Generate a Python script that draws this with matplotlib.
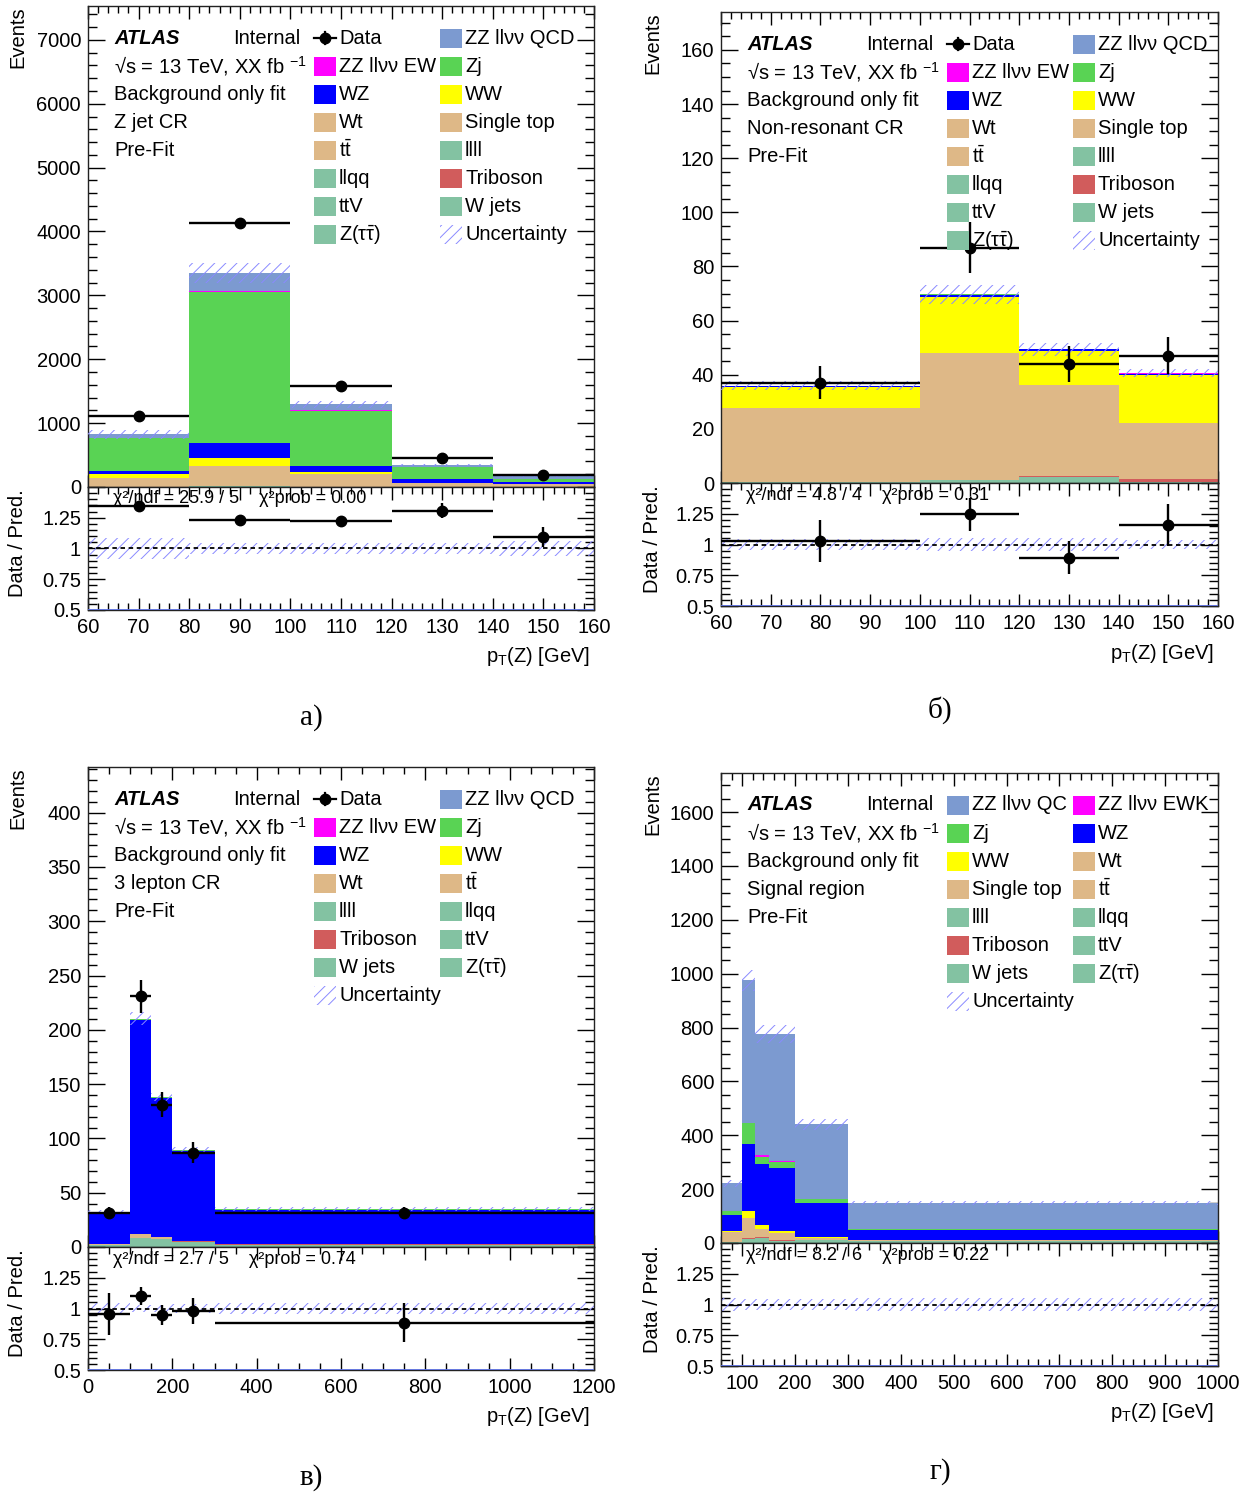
import numpy as np
import matplotlib
matplotlib.use('Agg')
import matplotlib.pyplot as plt
from matplotlib.patches import Rectangle
from matplotlib.ticker import MultipleLocator, FixedLocator, FixedFormatter

plt.rcParams['font.family'] = ['Liberation Sans', 'DejaVu Sans']
plt.rcParams['mathtext.fontset'] = 'custom'
plt.rcParams['mathtext.rm'] = 'Liberation Sans'
plt.rcParams['mathtext.it'] = 'Liberation Sans:italic'
plt.rcParams['mathtext.bf'] = 'Liberation Sans:bold'
plt.rcParams['mathtext.default'] = 'regular'
plt.rcParams['hatch.linewidth'] = 0.7

# ---- Z jet CR ----
a_edges = [60, 80, 100, 120, 140, 160]
a_other = [5, 8, 5, 3, 2]
a_tribo = [1, 2, 1, 1, 0]
a_top = [134, 320, 194, 56, 38]
a_ww = [60, 120, 40, 10, 5]
a_wz = [55, 233, 93, 50, 38]
a_zj = [505, 2370, 862, 196, 37]
a_ew = [5, 10, 12, 3, 2]
a_qcd = [60, 290, 87, 25, 50]
a_data = [1110, 4130, 1580, 450, 188]
a_unc = [70, 160, 55, 15, 10]

# ---- Non-resonant CR ----
b_edges = [60, 100, 120, 140, 160]
b_other = [0.4, 1.0, 2.2, 0.5]
b_tribo = [0.1, 0.2, 0.4, 0.8]
b_top = [27.1, 46.9, 33.6, 20.7]
b_ww = [8.0, 20.7, 12.7, 17.9]
b_wz = [0.3, 0.8, 0.5, 0.4]
b_zj = [0.0, 0.2, 0.0, 0.0]
b_ew = [0.0, 0.0, 0.0, 0.2]
b_qcd = [0.0, 0.0, 0.0, 0.0]
b_data = [37, 87, 44, 47]
b_unc = [1.7, 3.5, 2.5, 1.5]

# ---- 3 lepton CR ----
c_edges = [0, 100, 150, 200, 300, 1200]
c_other = [1.5, 8, 7, 5, 2]
c_tribo = [0.5, 0.5, 0.5, 0.3, 0.5]
c_top = [0.5, 3.5, 1.5, 0.5, 0.3]
c_ww = [0, 0.2, 0.1, 0, 0]
c_wz = [29.5, 197, 128.5, 82.5, 31.7]
c_zj = [0.5, 1, 0.5, 0.7, 0.5]
c_ew = [0, 0, 0, 0, 0]
c_qcd = [0, 0, 0, 0, 0]
c_data = [31, 231, 131, 87, 31]
c_unc = [1.5, 6, 4, 3, 1.5]

# ---- Signal region (no data) ----
d_edges = [60, 100, 125, 150, 200, 300, 1000]
d_other = [3, 16, 18, 8, 10, 7]
d_tribo = [1, 2, 4, 4, 2, 2]
d_top = [36, 73, 30, 25, 5, 1]
d_ww = [3, 27, 16, 9, 4, 0]
d_wz = [60, 248, 224, 234, 128, 40]
d_zj = [15, 79, 28, 21, 15, 2]
d_ew = [1, 2, 5, 3, 1, 1]
d_qcd = [102, 528, 451, 472, 276, 96]
d_unc = [12, 40, 35, 35, 20, 8]

chi2_a = 'χ²/ndf = 25.9 / 5    χ²prob = 0.00'
chi2_b = 'χ²/ndf = 4.8 / 4    χ²prob = 0.31'
chi2_c = 'χ²/ndf = 2.7 / 5    χ²prob = 0.74'
chi2_d = 'χ²/ndf = 8.2 / 6    χ²prob = 0.22'

TTBAR = r't$\bar{t}$'
ZTT = r'Z($\tau\bar{\tau}$)'
leg_a = ['Data', 'ZZ llνν QCD', 'ZZ llνν EW', 'Zj', 'WZ', 'WW', 'Wt', 'Single top',
         TTBAR, 'llll', 'llqq', 'Triboson', 'ttV', 'W jets', ZTT, 'Uncertainty']
leg_c = ['Data', 'ZZ llνν QCD', 'ZZ llνν EW', 'Zj', 'WZ', 'WW', 'Wt', TTBAR,
         'llll', 'llqq', 'Triboson', 'ttV', 'W jets', ZTT, 'Uncertainty']
leg_d = ['ZZ llνν QC', 'ZZ llνν EWK', 'Zj', 'WZ', 'WW', 'Wt', 'Single top', TTBAR,
         'llll', 'llqq', 'Triboson', 'ttV', 'W jets', ZTT, 'Uncertainty']

colors = {'other': '#83c2a2', 'tribo': '#d15c5c', 'top': '#deb887', 'ww': '#ffff00',
          'wz': '#0000ff', 'zj': '#59d354', 'ew': '#ff00ff', 'qcd': '#7c9ad0'}
leg_colors = {'ZZ llνν QCD': 'qcd', 'ZZ llνν QC': 'qcd', 'ZZ llνν EW': 'ew',
              'ZZ llνν EWK': 'ew', 'Zj': 'zj', 'WZ': 'wz', 'WW': 'ww', 'Wt': 'top',
              'Single top': 'top', TTBAR: 'top', 'llll': 'other', 'llqq': 'other',
              'ttV': 'other', 'W jets': 'other', ZTT: 'other', 'Triboson': 'tribo'}
hatch_col = '#8a8aff'
stack_order = ['other', 'tribo', 'top', 'ww', 'wz', 'zj', 'ew', 'qcd']

W, H = 1251, 1499
fig = plt.figure(figsize=(W / 100, H / 100), dpi=100)
FS = 14.5


def axes_px(x0, x1, y0, y1):
    return fig.add_axes([x0 / W, 1 - y1 / H, (x1 - x0) / W, (y1 - y0) / H])


def style(ax, xmaj, xmin, ymaj, ymin):
    ax.xaxis.set_major_locator(MultipleLocator(xmaj))
    ax.xaxis.set_minor_locator(MultipleLocator(xmin))
    if ymaj is not None:
        ax.yaxis.set_major_locator(MultipleLocator(ymaj))
        ax.yaxis.set_minor_locator(MultipleLocator(ymin))
    ax.tick_params(which='both', direction='in', top=True, right=True,
                   labelsize=FS, width=1.0)
    ax.tick_params(axis='y', which='major', length=12, pad=5)
    ax.tick_params(axis='y', which='minor', length=6.5)
    ax.tick_params(axis='x', which='major', length=9, pad=6)
    ax.tick_params(axis='x', which='minor', length=5)
    for s in ax.spines.values():
        s.set_linewidth(1.0)
        s.set_color('#222222')


def legend(ax, wpx, hpx, labels, region):
    def fx(dx):
        return dx / wpx

    def fy(dy):
        return 1 - dy / hpx

    tkw = dict(transform=ax.transAxes, fontsize=FS, va='center', zorder=12)
    ax.text(fx(26), fy(32), 'ATLAS', fontweight='bold', style='italic', **tkw)
    ax.text(fx(145), fy(32), 'Internal', **tkw)
    left = [r'√s = 13 TeV, XX fb $^{-1}$', 'Background only fit', region, 'Pre-Fit']
    for i, t in enumerate(left):
        ax.text(fx(26), fy(32 + 28.1 * (i + 1)), t, **tkw)

    sw, sh = 22, 19
    for i, lab in enumerate(labels):
        col, row = i % 2, i // 2
        xs = 226 if col == 0 else 352
        yc = fy(32 + 28.1 * row)
        if lab == 'Data':
            ax.plot([fx(xs), fx(xs + sw)], [yc, yc], color='k', lw=1.6,
                    transform=ax.transAxes, zorder=12, clip_on=False)
            ax.plot([fx(xs + sw / 2)] * 2, [yc - 6 / hpx, yc + 6 / hpx], color='k',
                    lw=1.6, transform=ax.transAxes, zorder=12, clip_on=False)
            ax.plot([fx(xs + sw / 2)], [yc], 'o', color='k', ms=7.5,
                    transform=ax.transAxes, zorder=12, clip_on=False)
        elif lab == 'Uncertainty':
            ax.add_patch(Rectangle((fx(xs), yc - sh / 2 / hpx), sw / wpx, sh / hpx,
                                   transform=ax.transAxes, facecolor='white',
                                   edgecolor=hatch_col, hatch='///', linewidth=0, zorder=11))
        else:
            ax.add_patch(Rectangle((fx(xs), yc - sh / 2 / hpx), sw / wpx, sh / hpx,
                                   transform=ax.transAxes,
                                   facecolor=colors[leg_colors[lab]],
                                   edgecolor='none', zorder=11))
        ax.text(fx(xs + 25), yc, lab, **tkw)


def panel(box, edges, comps, data, unc, xlim, xtick, ymax, ytick, labels,
          region, chi2, tag, tagpos):
    x0, x1, yt, ym, yb = box
    edges = np.array(edges, dtype=float)
    widths = np.diff(edges)
    centers = edges[:-1] + widths / 2
    unc = np.array(unc, dtype=float)

    ax = axes_px(x0, x1, yt, ym)
    rx = axes_px(x0, x1, ym, yb)

    # stacked backgrounds
    base = np.zeros(len(widths))
    for key in stack_order:
        vals = np.array(comps[key], dtype=float)
        ax.stairs(base + vals, edges, baseline=base.copy(), fill=True,
                  color=colors[key], linewidth=0, zorder=2)
        base = base + vals
    total = base
    ax.bar(edges[:-1], 2 * unc, width=widths, bottom=total - unc, align='edge',
           facecolor='none', edgecolor=hatch_col, hatch='///', linewidth=0, zorder=3)

    rel = unc / total
    rx.bar(edges[:-1], 2 * rel, width=widths, bottom=1 - rel, align='edge',
           facecolor='none', edgecolor=hatch_col, hatch='///', linewidth=0, zorder=2)
    rx.axhline(0.5, color='#5a6ee0', lw=2.0, zorder=3)
    rx.axhline(1.0, color='k', ls=(0, (2.5, 2)), lw=1.3, zorder=3)

    if data is not None:
        data = np.array(data, dtype=float)
        ekw = dict(fmt='o', color='k', ms=7.5, elinewidth=1.7, capsize=0, zorder=6)
        ax.errorbar(centers, data, xerr=widths / 2, yerr=np.sqrt(data), **ekw)
        rx.errorbar(centers, data / total, xerr=widths / 2,
                    yerr=np.sqrt(data) / total, **ekw)

    ax.set_xlim(*xlim)
    ax.set_ylim(0, ymax)
    rx.set_xlim(*xlim)
    rx.set_ylim(0.5, 1.5)
    style(ax, xtick[0], xtick[1], ytick[0], ytick[1])
    style(rx, xtick[0], xtick[1], None, None)
    ax.tick_params(labelbottom=False)
    rx.yaxis.set_major_locator(FixedLocator([0.5, 0.75, 1.0, 1.25, 1.5]))
    rx.yaxis.set_major_formatter(FixedFormatter(['0.5', '0.75', '1', '1.25', '']))
    rx.yaxis.set_minor_locator(MultipleLocator(0.05))

    legend(ax, x1 - x0, ym - yt, labels, region)
    rx.text(25 / (x1 - x0), 1 - 12 / (yb - ym), chi2, transform=rx.transAxes,
            fontsize=13, va='center', ha='left', zorder=8)

    lx = 18 if x0 < 400 else 653
    fig.text(lx / W, 1 - yt / H, 'Events', rotation=90, ha='center', va='top', fontsize=FS)
    fig.text(lx / W, 1 - ((ym + yb) / 2 - 5) / H, 'Data / Pred.', rotation=90,
             ha='center', va='center', fontsize=FS)
    fig.text((x1 - 4) / W, 1 - (yb + 47) / H, r'p$_{T}$(Z) [GeV]',
             ha='right', va='center', fontsize=FS)
    fig.text(tagpos[0] / W, 1 - tagpos[1] / H, tag, ha='center', va='center',
             fontsize=21, family='Liberation Serif')


comps_a = dict(other=a_other, tribo=a_tribo, top=a_top, ww=a_ww, wz=a_wz, zj=a_zj, ew=a_ew, qcd=a_qcd)
comps_b = dict(other=b_other, tribo=b_tribo, top=b_top, ww=b_ww, wz=b_wz, zj=b_zj, ew=b_ew, qcd=b_qcd)
comps_c = dict(other=c_other, tribo=c_tribo, top=c_top, ww=c_ww, wz=c_wz, zj=c_zj, ew=c_ew, qcd=c_qcd)
comps_d = dict(other=d_other, tribo=d_tribo, top=d_top, ww=d_ww, wz=d_wz, zj=d_zj, ew=d_ew, qcd=d_qcd)

panel((88, 594, 6, 487, 610), a_edges, comps_a, a_data, a_unc, (60, 160), (10, 2),
      7530, (1000, 200), leg_a, 'Z jet CR', chi2_a, 'а)', (311, 718))
panel((721, 1218, 12, 483, 606), b_edges, comps_b, b_data, b_unc, (60, 160), (10, 2),
      174, (20, 5), leg_a, 'Non-resonant CR', chi2_b, 'б)', (940, 710))
panel((88, 594, 767, 1247, 1370), c_edges, comps_c, c_data, c_unc, (0, 1200), (200, 50),
      442, (50, 10), leg_c, '3 lepton CR', chi2_c, 'в)', (311, 1478))
panel((721, 1218, 773, 1243, 1366), d_edges, comps_d, None, d_unc, (60, 1000), (100, 20),
      1745, (200, 50), leg_d, 'Signal region', chi2_d, 'г)', (940, 1472))

fig.savefig('out.png', dpi=100, facecolor='white')
